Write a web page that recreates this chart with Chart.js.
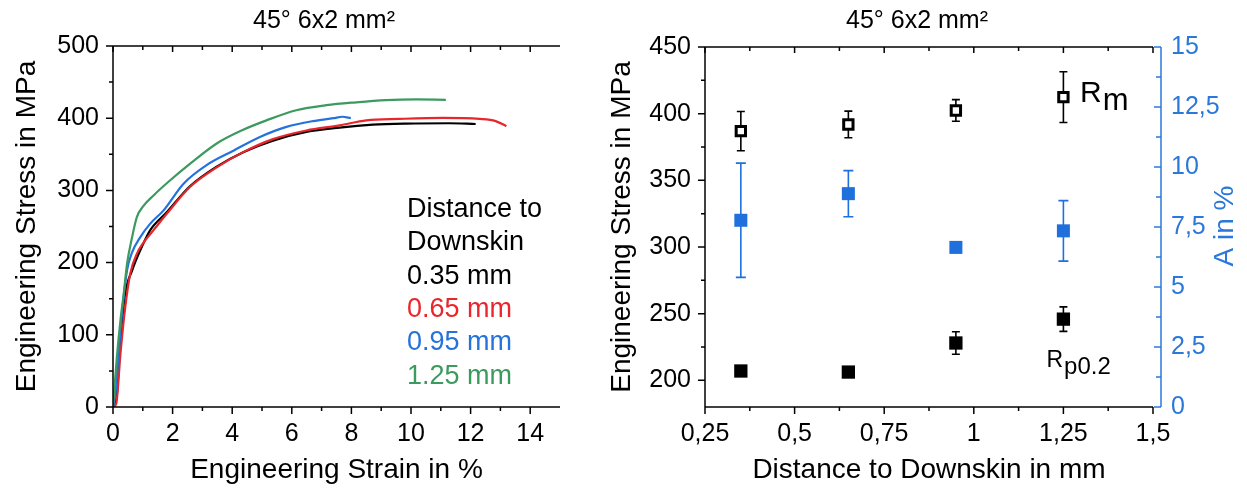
<!DOCTYPE html>
<html>
<head>
<meta charset="utf-8">
<script src="https://cdn.jsdelivr.net/npm/chart.js@4.4.1/dist/chart.umd.min.js"></script>
<style>
  body { margin: 0; background: #fff; }
  .box { position: absolute; top: 0; }
</style>
</head>
<body>
<div class="box" style="left:0"><canvas id="strainChart" width="590" height="489"></canvas></div>
<div class="box" style="left:590px"><canvas id="distChart" width="657" height="489"></canvas></div>
<script>
// stress-strain curves, one per distance to downskin
const strain035 = [0, 0.13, 0.25, 0.41, 0.64, 0.97, 1.25, 1.81, 2.59, 3.48, 4.37, 5.37, 6.49, 7.6, 8.72, 9.83, 11.28, 12.17];
const stress035 = [0, 18, 92, 157, 189, 222, 245, 270, 306, 333, 353, 369, 381, 387, 391, 392.5, 393, 392];

const strain065 = [0, 0.11, 0.25, 0.41, 0.58, 0.8, 1.03, 1.36, 1.81, 2.59, 3.48, 4.37, 5.37, 6.49, 7.6, 8.5, 9.6, 11.06, 12.3, 12.84, 13.2];
const stress065 = [0, 5, 74, 138, 185, 212, 228, 245, 268, 305, 332, 353, 371, 383, 390, 397, 399, 400.5, 399, 396, 389];

const strain095 = [0, 0.08, 0.19, 0.3, 0.47, 0.64, 0.91, 1.25, 1.69, 2.36, 3.14, 4.04, 4.93, 5.82, 6.71, 7.4, 7.7, 7.98];
const stress095 = [0, 18, 74, 129, 189, 214, 235, 254, 272, 309, 335, 355, 374, 388, 396, 400, 402, 400];

const strain125 = [0, 0.13, 0.25, 0.36, 0.47, 0.64, 0.8, 1.03, 1.36, 1.92, 2.59, 3.48, 4.37, 5.15, 6.15, 7.16, 8.16, 9.16, 10.17, 11.17];
const stress125 = [0, 69, 120, 157, 198, 235, 263, 279, 293, 314, 337, 365, 384, 397, 411, 418, 422, 425, 426, 425.5];

const curveLabels = ['0.35 mm', '0.65 mm', '0.95 mm', '1.25 mm'];
const curveColors = ['#000000', '#e8262b', '#2473dc', '#3c9a5f'];
const strainTicks = [0, 2, 4, 6, 8, 10, 12, 14];
const strainMinor = [1, 3, 5, 7, 9, 11, 13];
const stressTicks = [0, 100, 200, 300, 400, 500];
const stressMinor = [50, 150, 250, 350, 450];

// mean values and scatter per distance
const distance = [0.35, 0.65, 0.95, 1.25];
const rm = [386.9, 391.9, 402.4, 412.4];
const rmErr = [14.7, 10, 8.1, 19];
const rp02 = [207, 206.2, 228, 245.9];
const rp02Err = [1.5, 3, 8.4, 9.2];
const elong = [7.78, 8.89, 6.65, 7.34];
const elongErr = [2.38, 0.96, 0.1, 1.26];
const distTicks = [0.25, 0.5, 0.75, 1, 1.25, 1.5];
const distMinor = [0.375, 0.625, 0.875, 1.125, 1.375];
const rightStressTicks = [200, 250, 300, 350, 400, 450];
const rightStressMinor = [225, 275, 325, 375, 425];
const elongTicks = [0, 2.5, 5, 7.5, 10, 12.5, 15];
const elongMinor = [1.25, 3.75, 6.25, 8.75, 11.25, 13.75];

const FONT = "'Liberation Sans', Arial, sans-serif";
const AXIS_BLUE = '#2a78d9';
const MARK_BLUE = '#1f6fdc';
Chart.defaults.font.family = FONT;
Chart.defaults.color = '#000';

function xy(xs, ys) {
    return xs.map((x, i) => ({x: x, y: ys[i]}));
}
function comma(v) {
    return String(v).replace('.', ',');
}
function fixTicks(list) {
    return function(scale) { scale.ticks = list.map(v => ({value: v})); };
}

// frame, minor ticks, error bars and free text
const decor = {
    id: 'decor',
    beforeDatasetsDraw(chart, args, opts) {
        const ctx = chart.ctx;
        (opts.errorBars || []).forEach(eb => {
            const meta = chart.getDatasetMeta(eb.dataset);
            const ys = chart.scales[meta.yAxisID];
            const vals = chart.data.datasets[eb.dataset].data;
            ctx.save();
            ctx.strokeStyle = eb.color;
            ctx.lineWidth = 1.6;
            meta.data.forEach((pt, i) => {
                const top = ys.getPixelForValue(vals[i].y + eb.errors[i]);
                const bot = ys.getPixelForValue(vals[i].y - eb.errors[i]);
                ctx.beginPath();
                ctx.moveTo(pt.x, top); ctx.lineTo(pt.x, bot);
                ctx.moveTo(pt.x - eb.cap, top); ctx.lineTo(pt.x + eb.cap, top);
                ctx.moveTo(pt.x - eb.cap, bot); ctx.lineTo(pt.x + eb.cap, bot);
                ctx.stroke();
            });
            ctx.restore();
        });
    },
    afterDraw(chart, args, opts) {
        const ctx = chart.ctx, a = chart.chartArea;
        ctx.save();
        ctx.lineWidth = 1.5;
        // axis lines (shift moves an axis off the plot edge)
        (opts.frame || []).forEach(f => {
            const sh = f.shift || 0;
            ctx.strokeStyle = f.color;
            ctx.beginPath();
            if (f.edge === 'left') { ctx.moveTo(a.left, a.top); ctx.lineTo(a.left, a.bottom); }
            if (f.edge === 'right') { ctx.moveTo(a.right + sh, a.top); ctx.lineTo(a.right + sh, a.bottom); }
            if (f.edge === 'top') { ctx.moveTo(a.left, a.top); ctx.lineTo(a.right, a.top); }
            if (f.edge === 'bottom') { ctx.moveTo(a.left, a.bottom); ctx.lineTo(a.right, a.bottom); }
            ctx.stroke();
        });
        // tick marks: bottom outward, top inward, left outward, right inward
        (opts.ticks || []).forEach(t => {
            const s = chart.scales[t.scale];
            const sh = t.shift || 0;
            ctx.strokeStyle = t.color || '#000';
            ctx.beginPath();
            t.values.forEach(v => {
                const p = s.getPixelForValue(v);
                if (t.edge === 'bottom') { ctx.moveTo(p, a.bottom); ctx.lineTo(p, a.bottom + t.len); }
                if (t.edge === 'top') { ctx.moveTo(p, a.top); ctx.lineTo(p, a.top + t.len); }
                if (t.edge === 'left') { ctx.moveTo(a.left - t.len, p); ctx.lineTo(a.left, p); }
                if (t.edge === 'right') { ctx.moveTo(a.right + sh - t.len, p); ctx.lineTo(a.right + sh, p); }
            });
            ctx.stroke();
        });
        // texts
        (opts.texts || []).forEach(t => {
            ctx.save();
            ctx.fillStyle = t.color || '#000';
            ctx.translate(t.x, t.y);
            if (t.rotate) ctx.rotate(t.rotate);
            ctx.textAlign = t.align || 'left';
            ctx.textBaseline = t.baseline || 'alphabetic';
            ctx.font = t.size + 'px ' + FONT;
            ctx.fillText(t.text, 0, 0);
            if (t.sub) {
                const w = ctx.measureText(t.text).width;
                ctx.font = t.subSize + 'px ' + FONT;
                ctx.fillText(t.sub, w + 1, t.drop);
            }
            ctx.restore();
        });
        ctx.restore();
    }
};

const tickFont = {size: 25};
const axisTitleFont = {size: 28};

// left: stress-strain curves
const curveSets = [[strain035, stress035], [strain065, stress065], [strain095, stress095], [strain125, stress125]];
new Chart(document.getElementById('strainChart'), {
    type: 'scatter',
    data: {
        datasets: curveSets.map((c, i) => ({
            label: curveLabels[i],
            data: xy(c[0], c[1]),
            showLine: true,
            borderColor: curveColors[i],
            borderWidth: 2.2,
            pointRadius: 0,
            cubicInterpolationMode: 'monotone',
            order: 3 - i
        }))
    },
    options: {
        responsive: false,
        animation: false,
        events: [],
        layout: { padding: { top: 46, right: 30, left: 0, bottom: 0 } },
        plugins: {
            legend: { display: false },
            tooltip: { enabled: false },
            decor: {
                frame: [{edge: 'left', color: '#000'}, {edge: 'right', color: '#000'}, {edge: 'top', color: '#000'}, {edge: 'bottom', color: '#000'}],
                ticks: [
                    {scale: 'x', values: strainTicks, edge: 'bottom', len: 7},
                    {scale: 'x', values: strainMinor, edge: 'bottom', len: 4},
                    {scale: 'x', values: strainTicks, edge: 'top', len: 6},
                    {scale: 'x', values: strainMinor, edge: 'top', len: 4},
                    {scale: 'y', values: stressTicks, edge: 'left', len: 7},
                    {scale: 'y', values: stressMinor, edge: 'left', len: 4},
                    {scale: 'y', values: stressTicks, edge: 'right', len: 6},
                    {scale: 'y', values: stressMinor, edge: 'right', len: 4}
                ],
                texts: [
                    {text: '45° 6x2 mm²', x: 324, y: 21, size: 25, align: 'center', baseline: 'middle'},
                    {text: 'Distance to', x: 407, y: 210, size: 27, baseline: 'middle'},
                    {text: 'Downskin', x: 407, y: 243, size: 27, baseline: 'middle'},
                    {text: curveLabels[0], x: 407, y: 277, size: 27, baseline: 'middle', color: curveColors[0]},
                    {text: curveLabels[1], x: 407, y: 310, size: 27, baseline: 'middle', color: curveColors[1]},
                    {text: curveLabels[2], x: 407, y: 343, size: 27, baseline: 'middle', color: curveColors[2]},
                    {text: curveLabels[3], x: 407, y: 377, size: 27, baseline: 'middle', color: curveColors[3]}
                ]
            }
        },
        scales: {
            x: {
                type: 'linear', min: 0, max: 15,
                afterBuildTicks: fixTicks(strainTicks),
                afterFit: s => { s.height = 82; },
                grid: { display: false, drawTicks: false },
                border: { display: false },
                ticks: { font: tickFont, padding: 12, maxRotation: 0, autoSkip: false },
                title: { display: true, text: 'Engineering Strain in %', font: axisTitleFont, padding: { top: 0, bottom: 2 } }
            },
            y: {
                type: 'linear', min: 0, max: 500,
                afterBuildTicks: fixTicks(stressTicks),
                afterFit: s => { s.width = 113; },
                grid: { display: false, drawTicks: false },
                border: { display: false },
                ticks: { font: tickFont, padding: 14, autoSkip: false },
                title: { display: true, text: 'Engineering Stress in MPa', font: axisTitleFont, padding: { top: 10, bottom: 0 } }
            }
        }
    },
    plugins: [decor]
});

// right: Rm, Rp0.2 and elongation vs distance
new Chart(document.getElementById('distChart'), {
    type: 'scatter',
    data: {
        datasets: [
            { label: 'Rm', data: xy(distance, rm), yAxisID: 'y', pointStyle: 'rect', pointRadius: 6.6,
              backgroundColor: '#fff', borderColor: '#000', borderWidth: 3 },
            { label: 'Rp0.2', data: xy(distance, rp02), yAxisID: 'y', pointStyle: 'rect', pointRadius: 9.4,
              backgroundColor: '#000', borderColor: '#000', borderWidth: 0 },
            { label: 'A', data: xy(distance, elong), yAxisID: 'y2', pointStyle: 'rect', pointRadius: 9.2,
              backgroundColor: MARK_BLUE, borderColor: MARK_BLUE, borderWidth: 0 }
        ]
    },
    options: {
        responsive: false,
        animation: false,
        events: [],
        layout: { padding: { top: 47, right: 0, left: 0, bottom: 0 } },
        plugins: {
            legend: { display: false },
            tooltip: { enabled: false },
            decor: {
                errorBars: [
                    {dataset: 0, errors: rmErr, color: '#000', cap: 4},
                    {dataset: 1, errors: rp02Err, color: '#000', cap: 4},
                    {dataset: 2, errors: elongErr, color: MARK_BLUE, cap: 5}
                ],
                frame: [{edge: 'left', color: '#000'}, {edge: 'top', color: '#000'}, {edge: 'bottom', color: '#000'}, {edge: 'right', color: AXIS_BLUE, shift: 8}],
                ticks: [
                    {scale: 'x', values: distTicks, edge: 'bottom', len: 7},
                    {scale: 'x', values: distMinor, edge: 'bottom', len: 4},
                    {scale: 'x', values: distTicks, edge: 'top', len: 6},
                    {scale: 'x', values: distMinor, edge: 'top', len: 4},
                    {scale: 'y', values: rightStressTicks, edge: 'left', len: 7},
                    {scale: 'y', values: rightStressMinor, edge: 'left', len: 4},
                    {scale: 'y2', values: elongTicks, edge: 'right', len: 7, color: AXIS_BLUE, shift: 8},
                    {scale: 'y2', values: elongMinor, edge: 'right', len: 5, color: AXIS_BLUE, shift: 8}
                ],
                texts: [
                    {text: '45° 6x2 mm²', x: 327, y: 21, size: 25, align: 'center', baseline: 'middle'},
                    {text: 'R', x: 490, y: 102, size: 30, sub: 'm', subSize: 31, drop: 7.5},
                    {text: 'R', x: 456.5, y: 366.5, size: 23, sub: 'p0.2', subSize: 24, drop: 7},
                    {text: 'A in %', x: 635, y: 226, size: 28, align: 'center', baseline: 'middle', rotate: -Math.PI / 2, color: AXIS_BLUE}
                ]
            }
        },
        scales: {
            x: {
                type: 'linear', min: 0.25, max: 1.5,
                afterBuildTicks: fixTicks(distTicks),
                afterFit: s => { s.height = 82; },
                grid: { display: false, drawTicks: false },
                border: { display: false },
                ticks: { font: tickFont, padding: 12, maxRotation: 0, autoSkip: false, callback: v => comma(v) },
                title: { display: true, text: 'Distance to Downskin in mm', font: axisTitleFont, padding: { top: 0, bottom: 2 } }
            },
            y: {
                type: 'linear', position: 'left', min: 180, max: 450,
                afterBuildTicks: fixTicks(rightStressTicks),
                afterFit: s => { s.width = 115; },
                grid: { display: false, drawTicks: false },
                border: { display: false },
                ticks: { font: tickFont, padding: 14, autoSkip: false },
                title: { display: true, text: 'Engineering Stress in MPa', font: axisTitleFont, padding: { top: 15, bottom: 0 } }
            },
            y2: {
                type: 'linear', position: 'right', min: 0, max: 15,
                afterBuildTicks: fixTicks(elongTicks),
                afterFit: s => { s.width = 94; },
                grid: { display: false, drawTicks: false },
                border: { display: false },
                ticks: { font: tickFont, padding: 18, autoSkip: false, color: AXIS_BLUE, callback: v => comma(v) }
            }
        }
    },
    plugins: [decor]
});
</script>
</body>
</html>
